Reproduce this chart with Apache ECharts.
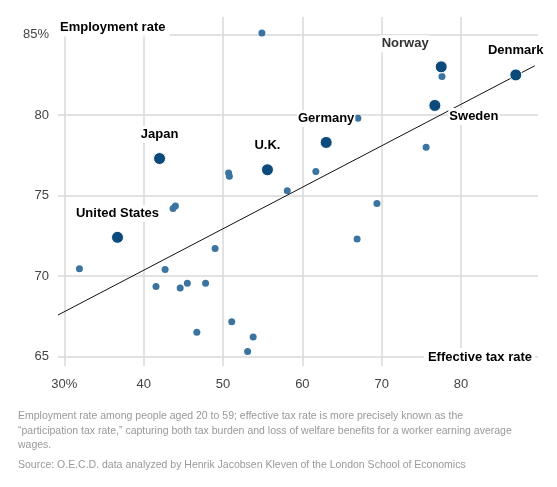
<!DOCTYPE html>
<html>
<head>
<meta charset="utf-8">
<script src="https://cdn.jsdelivr.net/npm/echarts@6/dist/echarts.min.js"></script>
<style>
 html,body{margin:0;padding:0;background:#fff;}
 #chart{width:557px;height:487px;}
</style>
</head>
<body>
<div id="chart"></div>
<script>
// labelled countries: [tax rate, employment rate]
var countryNames = ["United States","Japan","U.K.","Germany","Norway","Sweden","Denmark"];
var countryValues = [[36.7,72.4],[42.0,77.3],[55.6,76.6],[63.0,78.3],[77.5,83.0],[76.7,80.6],[86.9,82.5]];
// other o.e.c.d. countries, not labelled
var otherValues = [
 [54.9,85.1],[77.6,82.4],[67.0,79.8],[75.6,78.0],[61.7,76.5],[58.1,75.3],
 [50.7,76.4],[50.8,76.2],[69.4,74.5],[66.9,72.3],[43.7,74.2],[44.0,74.35],
 [49.0,71.7],[31.9,70.45],[42.7,70.4],[41.55,69.35],[44.6,69.25],[45.5,69.55],
 [47.8,69.55],[46.7,66.5],[51.1,67.15],[53.8,66.2],[53.1,65.3]
];
// regression line end points
var trendLine = [[29.2,67.57],[89.3,83.07]];
var xTicks = [30,40,50,60,70,80];
var yTicks = [65,70,75,80,85];

// label offsets for each country
var labelPos = {
 "United States":{position:"top",distance:9},
 "Japan":{position:"top",distance:9},
 "U.K.":{position:"top",distance:9},
 "Germany":{position:"top",distance:9},
 "Norway":{position:"top",distance:8,offset:[-36,0],color:"#333"},
 "Sweden":{position:"right",distance:7,offset:[0,11]},
 "Denmark":{position:"top",distance:9}
};

var dom = document.getElementById("chart");
var myChart = echarts.init(dom);

var bigData = countryValues.map(function(v,i){
 var p = labelPos[countryNames[i]];
 var lab = {position:p.position,distance:p.distance};
 if(p.offset) lab.offset = p.offset;
 if(p.color) lab.color = p.color;
 return {name:countryNames[i],value:v,label:lab};
});

var gridX = xTicks.map(function(v){return {xAxis:v};});
var gridY = yTicks.map(function(v){return {yAxis:v};});

option = {
 backgroundColor:'#fff',
 animation:false,
 grid:{left:58,right:19,top:17,bottom:121},
 xAxis:{
  type:'value',min:29.2,max:89.7,
  name:'Effective tax rate',nameLocation:'end',nameGap:-3,
  nameTextStyle:{fontFamily:'Liberation Sans',fontWeight:'bold',fontSize:13,color:'#000',
   align:'right',verticalAlign:'bottom',backgroundColor:'#fff',padding:[3,3,2,4]},
  axisLine:{show:false},axisTick:{show:false},splitLine:{show:false},
  axisLabel:{margin:12,color:'#444',fontSize:13,fontFamily:'Liberation Sans',
   showMinLabel:false,showMaxLabel:false,
   formatter:function(v){ if(xTicks.indexOf(v)<0) return ''; return v===30?'30%':v; }}
 },
 yAxis:{
  type:'value',min:64.4,max:86.1,
  name:'Employment rate',nameLocation:'end',nameGap:-10,
  nameTextStyle:{fontFamily:'Liberation Sans',fontWeight:'bold',fontSize:13,color:'#000',
   align:'left',verticalAlign:'middle',backgroundColor:'#fff',padding:[3,4,3,2]},
  axisLine:{show:false},axisTick:{show:false},splitLine:{show:false},
  axisLabel:{margin:9,color:'#444',fontSize:13,fontFamily:'Liberation Sans',
   showMinLabel:false,showMaxLabel:false,
   formatter:function(v){ if(yTicks.indexOf(v)<0) return ''; return v===85?'85%':v; }}
 },
 series:[
  {
   type:'line',data:trendLine,symbol:'none',silent:true,z:1,
   lineStyle:{color:'#111',width:1},
   markLine:{
    silent:true,symbol:'none',label:{show:false},
    lineStyle:{color:'#d8d8d8',width:1.5,type:'solid'},
    data:gridX.concat(gridY),z:0
   }
  },
  {
   type:'scatter',data:otherValues,symbolSize:7,z:3,
   itemStyle:{color:'#3b74a1',opacity:1}
  },
  {
   type:'scatter',data:bigData,symbolSize:12,z:4,
   itemStyle:{color:'#0b4a7a',borderColor:'#fff',borderWidth:1,opacity:1},
   label:{show:true,formatter:'{b}',fontFamily:'Liberation Sans',fontWeight:'bold',fontSize:13,
    color:'#000',backgroundColor:'#fff',padding:[2,1,2,1]}
  }
 ],
 graphic:[
  {type:'text',left:18,top:409,style:{
   text:'Employment rate among people aged 20 to 59; effective tax rate is more precisely known as the\n\u201Cparticipation tax rate,\u201D capturing both tax burden and loss of welfare benefits for a worker earning average\nwages.',
   font:'10.5px "Liberation Sans"',fill:'#999',lineHeight:14.5}},
  {type:'text',left:18,top:460,style:{
   text:'Source: O.E.C.D. data analyzed by Henrik Jacobsen Kleven of the London School of Economics',
   font:'10.5px "Liberation Sans"',fill:'#999'}}
 ]
};
if (option && typeof option === "object") {
 myChart.setOption(option, true);
}
</script>
</body>
</html>
